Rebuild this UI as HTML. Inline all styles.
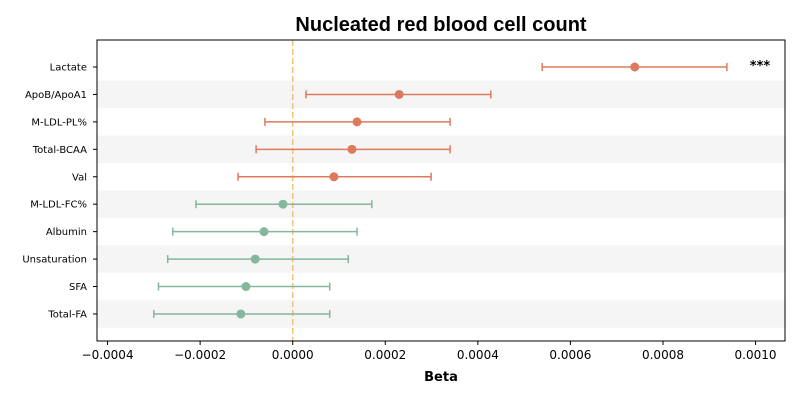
<!DOCTYPE html>
<html><head><meta charset="utf-8"><style>
body{margin:0;background:#fff;font-family:"Liberation Sans","DejaVu Sans",sans-serif}
</style></head><body>
<svg id="chart" width="800" height="400" viewBox="0 0 800 400" xmlns="http://www.w3.org/2000/svg">
<text x="441" y="31" text-anchor="middle" font-size="20" font-weight="bold">Nucleated red blood cell count</text>
<g id="bands"></g>
<g id="marks"></g>
<rect x="97" y="40" width="688" height="301" fill="none" stroke="#000" stroke-width="1"/>
<g id="axes"></g>
<text x="441" y="381" text-anchor="middle" font-size="13" font-weight="bold" font-family="DejaVu Sans, sans-serif">Beta</text>
<text x="760" y="70" text-anchor="middle" font-size="13" font-weight="bold" font-family="DejaVu Sans, sans-serif">***</text>
</svg>
<script>
const categories=["Lactate","ApoB/ApoA1","M-LDL-PL%","Total-BCAA","Val","M-LDL-FC%","Albumin","Unsaturation","SFA","Total-FA"];
const betas=[0.000739,0.00023,0.000139,0.000128,0.000089,-0.000021,-0.000062,-0.000081,-0.000101,-0.000112];
const lower=[0.000539,0.0000287,-0.00006,-0.000079,-0.000118,-0.000209,-0.000259,-0.00027,-0.00029,-0.0003];
const upper=[0.000938,0.000428,0.00034,0.00034,0.000299,0.000171,0.000139,0.00012,0.00008,0.00008];
const xTicks=[-0.0004,-0.0002,0,0.0002,0.0004,0.0006,0.0008,0.0010];
const xTickLabels=["\u22120.0004","\u22120.0002","0.0000","0.0002","0.0004","0.0006","0.0008","0.0010"];
const NS="http://www.w3.org/2000/svg";
function x(v){return 292.7+v*462860;}
function y(i){return 67+i*27.44;}
function mk(t,a,p){const e=document.createElementNS(NS,t);for(const k in a)e.setAttribute(k,a[k]);p.appendChild(e);return e;}
const bands=document.getElementById('bands'),marks=document.getElementById('marks'),axes=document.getElementById('axes');
categories.forEach((c,i)=>{
 if(i%2===1){const b=mk('rect',{x:97,y:y(i)-13.72,width:688,height:27.44,fill:'#f5f5f5'},bands);
 
 }
 const t=mk('text',{x:87,y:y(i)+3.5,'text-anchor':'end','font-size':10,'font-family':'DejaVu Sans, sans-serif'},axes);t.textContent=c;
 
 
 mk('line',{x1:93,x2:97,y1:y(i),y2:y(i),stroke:'#000'},axes);
});
const zl=mk('line',{x1:x(0),x2:x(0),y1:40,y2:341,stroke:'#f0c27a','stroke-width':1.5,'stroke-dasharray':'6,3'},marks);


categories.forEach((c,i)=>{
 const col=betas[i]>0?'#dd7a5d':'#84b79c';
 const g=mk('g',{},marks);
 
 
 mk('line',{x1:x(lower[i]),x2:x(upper[i]),y1:y(i),y2:y(i),stroke:col,'stroke-width':1.5},g);
 mk('line',{x1:x(lower[i]),x2:x(lower[i]),y1:y(i)-4,y2:y(i)+4,stroke:col,'stroke-width':1.5},g);
 mk('line',{x1:x(upper[i]),x2:x(upper[i]),y1:y(i)-4,y2:y(i)+4,stroke:col,'stroke-width':1.5},g);
 mk('circle',{cx:x(betas[i]),cy:y(i),r:4.5,fill:col},g);
});
xTicks.forEach((v,i)=>{
 mk('line',{x1:x(v),x2:x(v),y1:341,y2:345,stroke:'#000'},axes);
 const t=mk('text',{x:x(v),y:359,'text-anchor':'middle','font-size':12,'font-family':'DejaVu Sans, sans-serif'},axes);t.textContent=xTickLabels[i];
 
 
});
</script>
</body></html>
